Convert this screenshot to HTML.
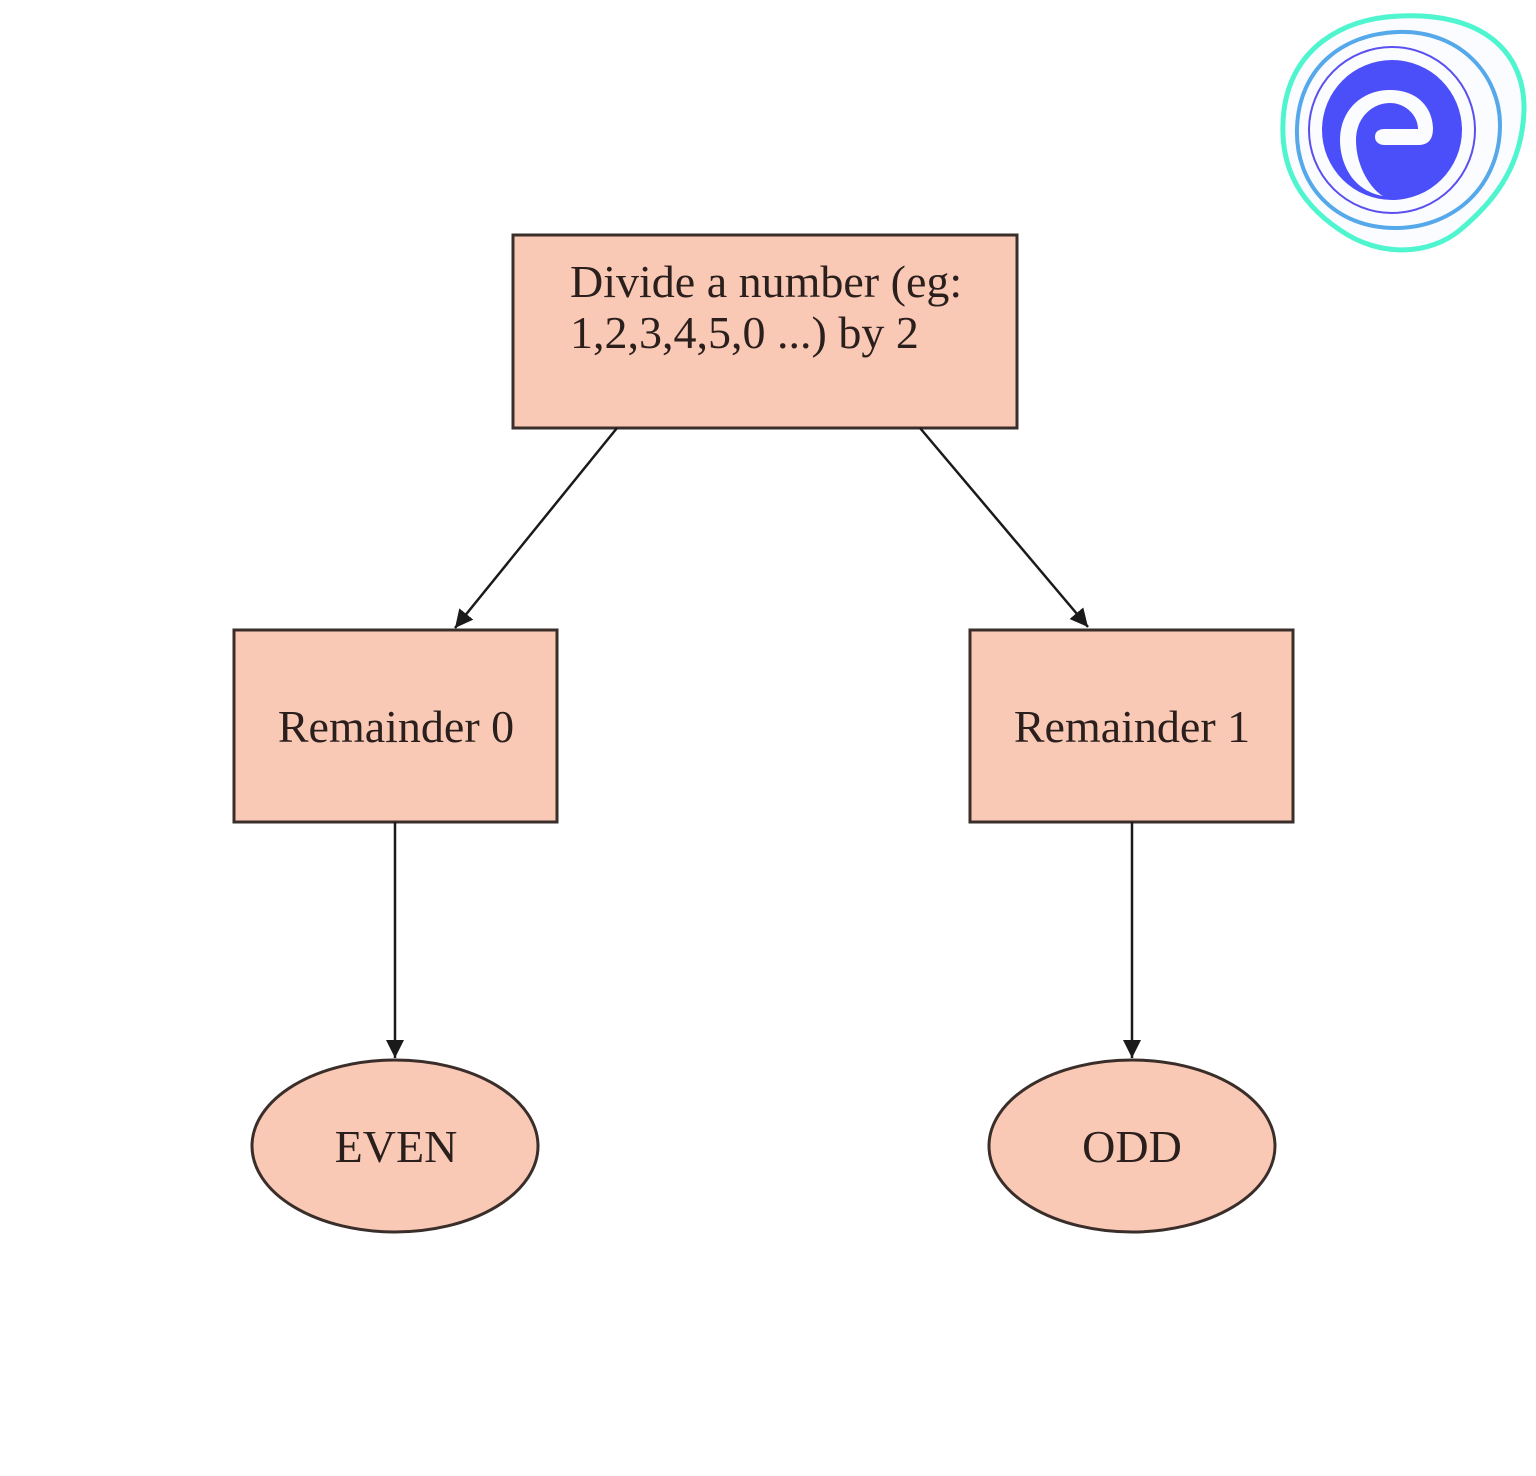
<!DOCTYPE html>
<html><head><style>html,body{margin:0;padding:0;background:#fff}</style></head>
<body>
<svg width="1536" height="1471" viewBox="0 0 1536 1471" xmlns="http://www.w3.org/2000/svg">
<defs>
<marker id="b" markerWidth="18" markerHeight="18" refX="10" refY="5" orient="auto" markerUnits="userSpaceOnUse" viewBox="0 0 10 10"><path d="M0,0 L10,5 L0,10 z" fill="#1a1a1a"/></marker></defs>
<!-- logo -->
<path d="M1400,16 C1480,12 1525,50 1524,110 C1522,170 1490,205 1460,230 C1430,255 1380,258 1340,230 C1295,200 1278,160 1284,110 C1292,50 1340,18 1400,16 Z" fill="#fbfcff" stroke="#4ff5cf" stroke-width="5"/>
<path d="M1398,32 C1460,30 1500,75 1500,125 C1500,185 1455,228 1395,228 C1335,228 1295,185 1297,128 C1299,70 1340,34 1398,32 Z" fill="none" stroke="#55a9ea" stroke-width="4"/>
<circle cx="1392" cy="130" r="83" fill="none" stroke="#5a4ff0" stroke-width="2"/>
<circle cx="1392" cy="130" r="70" fill="#4b4ffa"/>
<path d="M1383,196 C1350,190 1340,160 1340,140 C1340,110 1362,90 1390,90 C1415,90 1432,105 1433,128 C1433,140 1428,145 1418,145 L1385,145 C1378,145 1375,141 1375,137 C1375,132 1378,129 1385,129 L1418,129 C1418,115 1405,103 1390,103 C1372,103 1356,118 1356,140 C1356,168 1372,190 1383,196 Z" fill="#fbfcff"/>
<!-- nodes -->
<g stroke="#3a2e2a" stroke-width="3" fill="#f9c9b6">
<rect x="513" y="235" width="504" height="193"/>
<rect x="234" y="630" width="323" height="192"/>
<rect x="970" y="630" width="323" height="192"/>
<ellipse cx="395" cy="1146" rx="143" ry="86"/>
<ellipse cx="1132" cy="1146" rx="143" ry="86"/>
</g>
<g stroke="#1a1a1a" stroke-width="2.5" fill="none">
<line x1="617" y1="428" x2="455" y2="628" marker-end="url(#b)"/>
<line x1="920" y1="428" x2="1088" y2="627" marker-end="url(#b)"/>
<line x1="395" y1="822" x2="395" y2="1058" marker-end="url(#b)"/>
<line x1="1132" y1="822" x2="1132" y2="1058" marker-end="url(#b)"/>
</g>
<g font-family="Liberation Serif, serif" font-size="46" fill="#2a1f1c">
<text x="570" y="297">Divide a number (eg:</text>
<text x="570" y="348">1,2,3,4,5,0 ...) by 2</text>
<text x="396" y="742" text-anchor="middle">Remainder 0</text>
<text x="1132" y="742" text-anchor="middle">Remainder 1</text>
<text x="396" y="1162" text-anchor="middle">EVEN</text>
<text x="1132" y="1162" text-anchor="middle">ODD</text>
</g>
</svg>
</body></html>
